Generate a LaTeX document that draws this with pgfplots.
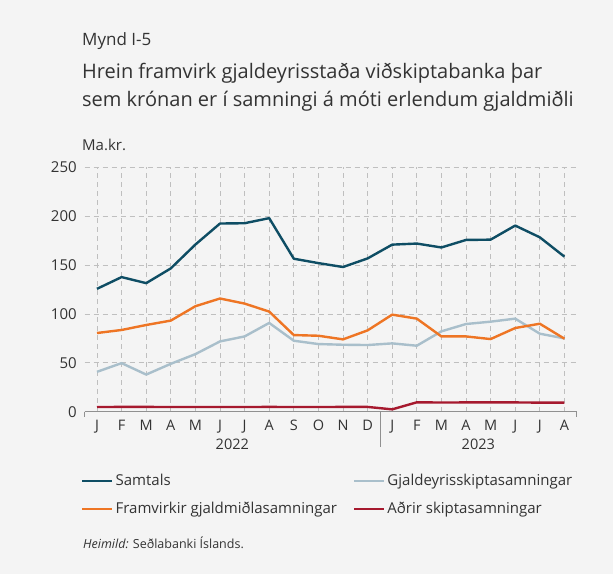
\documentclass[border=0pt]{standalone}
\usepackage{fontspec}
\setmainfont{Open Sans}
\usepackage{pgfplots}
\pgfplotsset{compat=1.18}
\definecolor{bg}{HTML}{F4F4F4}
\definecolor{txt}{HTML}{333333}
\definecolor{samt}{HTML}{0E4D64}
\definecolor{fram}{HTML}{EE7524}
\definecolor{gjald}{HTML}{A9BFCB}
\definecolor{adrir}{HTML}{A6192E}
\definecolor{grid}{HTML}{A0A0A0}
\begin{document}
\begin{tikzpicture}
\useasboundingbox (0pt,0pt) rectangle (613pt,-574pt);
\fill[bg] (0pt,0pt) rectangle (613pt,-574pt);
\node[anchor=base west, inner sep=0pt, text=txt, font=\fontsize{17}{20}\selectfont] at (82pt,-45pt) {Mynd I-5};
\node[anchor=base west, inner sep=0pt, text=txt, font=\fontsize{20}{24}\selectfont] at (82pt,-78.3pt) {Hrein framvirk gjaldeyrisstaða viðskiptabanka þar};
\node[anchor=base west, inner sep=0pt, text=txt, font=\fontsize{20}{24}\selectfont] at (82pt,-106pt) {sem krónan er í samningi á móti erlendum gjaldmiðli};
\node[anchor=base west, inner sep=0pt, text=txt, font=\fontsize{15}{18}\selectfont] at (82pt,-150.7pt) {Ma.kr.};
\node[anchor=base west, inner sep=0pt, text=txt, font=\fontsize{12.5}{15}\selectfont] at (83pt,-548pt) {\textit{Heimild:} Seðlabanki Íslands.};
\begin{axis}[
  at={(84.7pt,-411.7pt)}, anchor=south west,
  scale only axis, width=492pt, height=244.4pt,
  xmin=-0.5, xmax=19.5, ymin=0, ymax=250,
  axis line style={draw=none},
  ytick={0,50,100,150,200,250},
  ymajorgrids, grid style={grid, line width=0.8pt, dash pattern=on 5pt off 4pt},
  major tick length=0pt,
  yticklabel style={text=txt, font=\fontsize{15}{17}\selectfont, xshift=-4.5pt},
  xtick={0,...,19},
  xticklabels={J,F,M,A,M,J,J,A,S,O,N,D,J,F,M,A,M,J,J,A},
  xticklabel style={text=txt, font=\fontsize{14.5}{16}\selectfont, yshift=-5pt},
  /pgf/number format/assume math mode=true,
  clip=false,
  legend columns=2,
  legend style={at={(-0.0136,-0.24)}, anchor=north west, draw=none, fill=none,
    font=\fontsize{15}{17}\selectfont, text=txt, row sep=11pt,
    /tikz/every even column/.append style={column sep=14pt}},
  legend cell align=left,
  legend image code/.code={\draw[#1, line width=2.4pt] (0pt,0pt) -- (20pt,0pt); \path (0pt,0pt) -- (30pt,0pt);},
  every axis plot/.append style={line width=2.4pt, line join=round},
]
\draw[grid!90!black, line width=0.8pt] (axis cs:-0.5,0) -- (axis cs:19.5,0);
\draw[grid!90!black, line width=0.8pt] (axis cs:-0.5,0) -- ++(0pt,-5.5pt);
\draw[grid!90!black, line width=0.8pt] (axis cs:19.5,0) -- ++(0pt,-5.5pt);
\draw[grid!90!black, line width=0.8pt] (axis cs:11.5,0) -- ++(0pt,-35pt);
\node[text=txt, font=\fontsize{14.5}{16}\selectfont, anchor=base] at ([yshift=-37.3pt]axis cs:5.5,0) {2022};
\node[text=txt, font=\fontsize{14.5}{16}\selectfont, anchor=base] at ([yshift=-37.3pt]axis cs:15.5,0) {2023};
\addplot[samt] coordinates {(0,125.7)(1,137.7)(2,131.5)(3,146.6)(4,171)(5,192.5)(6,192.8)(7,198)(8,156.5)(9,152)(10,148)(11,156.8)(12,170.9)(13,172)(14,168)(15,175.7)(16,176)(17,190.4)(18,178.4)(19,158.6)};
\addlegendentry{Samtals}
\addplot[gjald] coordinates {(0,40.8)(1,49.7)(2,38)(3,49)(4,58.9)(5,71.9)(6,77)(7,90.8)(8,72.6)(9,69.2)(10,68.5)(11,68.2)(12,69.9)(13,67.5)(14,82.2)(15,89.7)(16,92.1)(17,95.2)(18,79.8)(19,75)};
\addlegendentry{Gjaldeyrisskiptasamningar}
\addplot[fram] coordinates {(0,80.5)(1,83.6)(2,88.7)(3,93.2)(4,107.9)(5,115.8)(6,110.6)(7,102.4)(8,78.4)(9,77.7)(10,74)(11,83.2)(12,99.3)(13,95.2)(14,77)(15,77)(16,74.3)(17,85.6)(18,90)(19,74.7)};
\addlegendentry{Framvirkir gjaldmiðlasamningar}
\addplot[adrir] coordinates {(0,4.8)(1,4.9)(2,4.9)(3,4.8)(4,4.8)(5,4.8)(6,4.8)(7,4.9)(8,4.8)(9,4.8)(10,4.9)(11,4.9)(12,2.4)(13,9.6)(14,9.4)(15,9.5)(16,9.6)(17,9.5)(18,9.3)(19,9.3)};
\addlegendentry{Aðrir skiptasamningar}
\end{axis}
\end{tikzpicture}
\end{document}
